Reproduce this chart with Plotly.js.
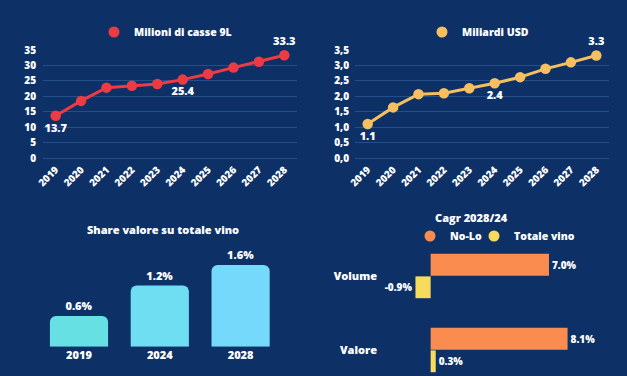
<!DOCTYPE html>
<html>
<head>
<meta charset="utf-8">
<script src="https://cdn.plot.ly/plotly-3.0.1.min.js"></script>
<style>
html,body{margin:0;padding:0;background:#0d3166;}
#chart{width:627px;height:376px;}
</style>
</head>
<body>
<div id="chart"></div>
<script>
// ---- Data ----
const years = ['2019','2020','2021','2022','2023','2024','2025','2026','2027','2028'];
const casesMillions = [13.7, 18.5, 22.8, 23.4, 24.0, 25.4, 27.2, 29.3, 31.2, 33.3];
const valueBnUSD = [1.1, 1.64, 2.07, 2.10, 2.26, 2.42, 2.62, 2.89, 3.10, 3.32];
const labelledYears = ['2019','2024','2028'];
const casesTickVals = [0, 5, 10, 15, 20, 25, 30, 35];
const usdTickVals = [0, 0.5, 1.0, 1.5, 2.0, 2.5, 3.0, 3.5];
const usdTickText = ['0,0','0,5','1,0','1,5','2,0','2,5','3,0','3,5'];

const shareYears = ['2019','2024','2028'];
const shareValues = [0.6, 1.2, 1.6];

const cagrCategories = ['Volume','Valore'];
const noLoCagr = [7.0, 8.1];
const totalWineCagr = [-0.9, 0.3];

// ---- Styles ----
const BG = '#0d3166';
const GRID = '#24508a';
const RED = '#ee3b43';
const GOLD = '#f6bf5f';
const ORANGE = '#fa8c4f';
const YELLOW = '#f7db5c';
const SHARE_COLORS = ['#66e0e3', '#6fdef2', '#74d9fa'];
const FAMILY = 'Open Sans, sans-serif';
const WEIGHT = 800;
const FONT = {family: FAMILY, color: '#ffffff', size: 10, weight: WEIGHT};
const FONT11 = {family: FAMILY, color: '#ffffff', size: 11, weight: WEIGHT};
const FONTLEG = {family: FAMILY, color: '#ffffff', size: 10.5, weight: WEIGHT};

function pointLabels(vals) {
  return vals.map((v, i) => labelledYears.includes(years[i]) ? v.toFixed(1) : '');
}
function labelPositions() {
  return years.map((y, i) => i === years.length - 1 ? 'top center' : 'bottom center');
}
const W = 627, H = 376;
const px = x => x / W;
const py = y => 1 - y / H;

const traces = [
  {
    type: 'scatter', mode: 'lines+markers+text', x: years, y: casesMillions,
    xaxis: 'x', yaxis: 'y', showlegend: false,
    line: {color: RED, width: 3}, marker: {color: RED, size: 10.5},
    text: pointLabels(casesMillions), textposition: labelPositions(),
    textfont: FONT11, cliponaxis: false, hoverinfo: 'x+y'
  },
  {
    type: 'scatter', mode: 'markers', x: [null], y: [null], xaxis: 'x', yaxis: 'y',
    name: 'Milioni di casse 9L', marker: {color: RED, size: 11}, legend: 'legend'
  },
  {
    type: 'scatter', mode: 'lines+markers+text', x: years, y: valueBnUSD,
    xaxis: 'x2', yaxis: 'y2', showlegend: false,
    line: {color: GOLD, width: 3}, marker: {color: GOLD, size: 10.5},
    text: pointLabels(valueBnUSD), textposition: labelPositions(),
    textfont: FONT11, cliponaxis: false, hoverinfo: 'x+y'
  },
  {
    type: 'scatter', mode: 'markers', x: [null], y: [null], xaxis: 'x2', yaxis: 'y2',
    name: 'Miliardi USD', marker: {color: GOLD, size: 11}, legend: 'legend2'
  },
  {
    type: 'bar', x: shareYears, y: shareValues, xaxis: 'x3', yaxis: 'y3',
    showlegend: false, width: 0.72,
    marker: {color: SHARE_COLORS, cornerradius: 6},
    texttemplate: '%{y:.1f}%', textposition: 'outside', cliponaxis: false,
    textfont: FONT11
  },
  {
    type: 'bar', orientation: 'h', y: cagrCategories, x: noLoCagr, xaxis: 'x4', yaxis: 'y4',
    name: 'No-Lo', showlegend: false, width: 0.295, offset: -0.30,
    marker: {color: ORANGE},
    texttemplate: '%{x:.1f}%', textposition: 'outside', cliponaxis: false,
    textfont: FONT
  },
  {
    type: 'bar', orientation: 'h', y: cagrCategories, x: totalWineCagr, xaxis: 'x4', yaxis: 'y4',
    name: 'Totale vino', showlegend: false, width: 0.295, offset: 0.005,
    marker: {color: YELLOW},
    texttemplate: '%{x:.1f}%', textposition: 'outside', cliponaxis: false,
    textfont: FONT
  },
  {
    type: 'scatter', mode: 'markers', x: [null], y: [null], xaxis: 'x4', yaxis: 'y4',
    name: 'No-Lo', marker: {color: ORANGE, size: 11}, legend: 'legend3'
  },
  {
    type: 'scatter', mode: 'markers', x: [null], y: [null], xaxis: 'x4', yaxis: 'y4',
    name: 'Totale vino', marker: {color: YELLOW, size: 11}, legend: 'legend4'
  }
];

const yearAxis = (dom) => ({
  domain: dom, type: 'category', range: [-0.5, 9.5], showgrid: false, zeroline: false,
  showline: false, ticks: '', tickangle: -45, tickfont: FONT, ticklabelstandoff: 3,
  fixedrange: true
});
const legendBase = {
  orientation: 'h', bgcolor: 'rgba(0,0,0,0)', borderwidth: 0,
  font: FONTLEG, xanchor: 'left', yanchor: 'middle', itemwidth: 30
};

const layout = {
  width: W, height: H,
  margin: {l: 0, r: 0, t: 0, b: 0},
  paper_bgcolor: BG, plot_bgcolor: BG,
  font: FONT,
  barmode: 'overlay',
  xaxis: yearAxis([px(43), px(297)]),
  yaxis: {
    domain: [py(158), py(50)], range: [0, 35], tickvals: casesTickVals,
    gridcolor: GRID, gridwidth: 1, zeroline: true, zerolinecolor: GRID, zerolinewidth: 1,
    showline: false, ticks: '', tickfont: FONT, ticklabelstandoff: 6, fixedrange: true
  },
  xaxis2: Object.assign(yearAxis([px(355), px(609)]), {anchor: 'y2'}),
  yaxis2: {
    domain: [py(158), py(50)], range: [0, 3.5], tickvals: usdTickVals, ticktext: usdTickText,
    anchor: 'x2',
    gridcolor: GRID, gridwidth: 1, zeroline: true, zerolinecolor: GRID, zerolinewidth: 1,
    showline: false, ticks: '', tickfont: FONT, ticklabelstandoff: 5, fixedrange: true
  },
  xaxis3: {
    domain: [px(38.6), px(281)], anchor: 'y3', type: 'category',
    showgrid: false, zeroline: false, showline: false, ticks: '', tickfont: FONT11
  },
  yaxis3: {
    domain: [py(346.7), py(254.9)], anchor: 'x3', range: [0, 1.8],
    visible: false, showgrid: false, zeroline: false
  },
  xaxis4: {
    domain: [px(383), px(610)], anchor: 'y4', range: [-2.82, 10.61],
    visible: false, showgrid: false, zeroline: false
  },
  yaxis4: {
    domain: [0, py(239)], anchor: 'x4', type: 'category', range: [1.351, -0.5],
    showgrid: false, zeroline: false, showline: false, ticks: '',
    tickfont: FONT11, ticklabelstandoff: 5
  },
  legend: Object.assign({}, legendBase, {x: px(94), y: py(32)}),
  legend2: Object.assign({}, legendBase, {x: px(422), y: py(32)}),
  legend3: Object.assign({}, legendBase, {x: px(410), y: py(236)}),
  legend4: Object.assign({}, legendBase, {x: px(474), y: py(236)}),
  annotations: [
    {text: 'Share valore su totale vino', xref: 'paper', yref: 'paper', x: px(163), y: py(229),
     xanchor: 'center', yanchor: 'middle', showarrow: false, font: FONT11},
    {text: 'Cagr 2028/24', xref: 'paper', yref: 'paper', x: px(471), y: py(217),
     xanchor: 'center', yanchor: 'middle', showarrow: false, font: FONT11}
  ],
  showlegend: true
};

Plotly.newPlot('chart', traces, layout, {displayModeBar: false, staticPlot: true});
</script>
</body>
</html>
